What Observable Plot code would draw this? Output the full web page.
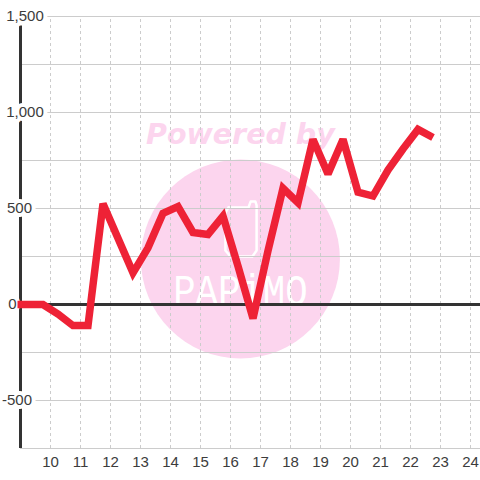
<!DOCTYPE html>
<html>
<head>
<meta charset="utf-8">
<script src="https://cdn.jsdelivr.net/npm/d3@7"></script>
<script src="https://cdn.jsdelivr.net/npm/@observablehq/plot@0.6"></script>
<style>html,body{margin:0;padding:0;background:#fff}svg{display:block}</style>
</head>
<body>
<div id="chart"></div>
<script>
const xs = [8.9,9.75,10.25,10.75,11.25,11.75,12.25,12.75,13.25,13.75,14.25,14.75,15.25,15.75,16.25,16.75,17.25,17.75,18.25,18.75,19.25,19.75,20.25,20.75,21.25,21.75,22.25,22.75];
const values = [0,0,-50,-110,-110,525,345,165,295,475,510,375,365,460,200,-73,280,605,530,860,680,860,585,565,700,810,912,870];
const xTicks = [10,11,12,13,14,15,16,17,18,19,20,21,22,23,24];
const yGrid = [1500,1250,1000,750,500,250,0,-250,-500,-750];
const yLabels = [1500,1000,500,0,-500];
const yLabelText = ["1,500","1,000","500","0","-500"];
const logoX = [15.93,16.6,16.67,16.83,16.87,16.87,16.73,16,15.83,15.83,15.93];
const logoY = [505,505,536,536,516,281,250,250,281,479,505];

const series = xs.map((x,i)=>({x,y:values[i]}));
const logo = logoX.map((x,i)=>({x,y:logoY[i]}));
const labels = yLabels.map((y,i)=>({y,t:yLabelText[i]}));
const font = "'Liberation Sans', Arial, sans-serif";
const labelStyle = {x:9,y:"y",text:"t",fontSize:15,fill:"#3c3c3c",stroke:"#fff",strokeWidth:8,paintOrder:"stroke"};

const chart = Plot.plot({
  width:480, height:480,
  marginLeft:20, marginRight:0, marginTop:16, marginBottom:32,
  style:{background:"#fff", fontFamily:font},
  x:{domain:[9,24.3333], axis:null},
  y:{domain:[-750,1500], axis:null},
  marks:[
    Plot.dot([{x:16.33,y:237}],{x:"x",y:"y",r:99.5,fill:"#fcd5ee",stroke:"none"}),
    Plot.text(["Powered by"],{x:16.33,y:882,text:d=>d,fontFamily:"'DejaVu Sans'",fontWeight:"bold",fontStyle:"italic",fontSize:28.5,fill:"#fcd5ee"}),
    Plot.line(logo,{x:"x",y:"y",stroke:"#fff",strokeWidth:2.5,fill:"none",strokeLinejoin:"round"}),
    Plot.text(["PAPiMO"],{x:16.33,y:73,text:d=>d,fontFamily:"'Liberation Mono'",fontSize:45,fill:"#fff",className:"logo-word"}),
    Plot.ruleY(yGrid,{stroke:"#ccc",strokeWidth:1.2}),
    Plot.ruleX(xTicks,{y1:-750,y2:1500,stroke:"#ccc",strokeWidth:1,strokeDasharray:"3,3"}),
    Plot.ruleX([9],{y1:-750,y2:1450,stroke:"#333",strokeWidth:3}),
    Plot.ruleY([0],{stroke:"#333",strokeWidth:3}),
    Plot.text(labels.filter(d=>Math.abs(d.y)>=1000),{...labelStyle,dx:4.5}),
    Plot.text(labels.filter(d=>d.y===500),{...labelStyle,dx:-1}),
    Plot.text(labels.filter(d=>d.y===0),{...labelStyle,dx:-8}),
    Plot.text(labels.filter(d=>d.y===-500),{...labelStyle,dx:-3.5}),
    Plot.text(xTicks,{x:d=>d,y:-750,text:d=>String(d),dy:13.5,fontSize:15,fill:"#3c3c3c"}),
    Plot.line(series,{x:"x",y:"y",stroke:"#ee2236",strokeWidth:7.5,strokeLinejoin:"miter",strokeMiterlimit:2.5,strokeLinecap:"butt"})
  ]
});
d3.select(chart).selectAll(".logo-word text").attr("transform",function(){
  return (this.getAttribute("transform")||"")+" scale(0.83,1)";
});
document.getElementById("chart").appendChild(chart);
</script>
</body>
</html>
